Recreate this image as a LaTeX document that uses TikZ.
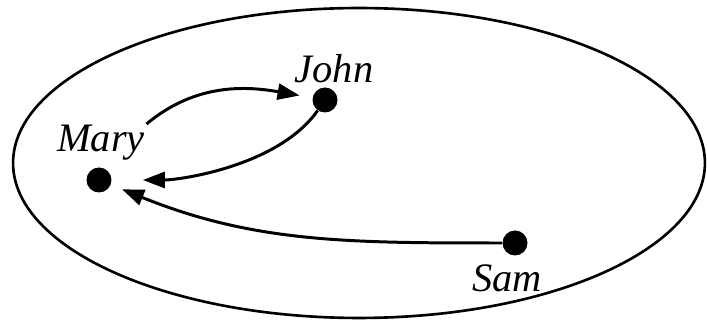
\documentclass[tikz,border=0pt]{standalone}
\usepackage{fontspec}
\setmainfont{Liberation Serif}
\usetikzlibrary{arrows.meta}
\tikzset{
  dot/.style={circle, fill=black, inner sep=0pt, minimum size=0.5cm},
  persontext/.style={font=\fontsize{23}{26}\selectfont\itshape, inner sep=0pt, anchor=base},
  link/.style={-{Triangle[length=0.44cm, width=0.32cm]}, line width=1.7pt}
}

\begin{document}
\begin{tikzpicture}[x=0.02cm, y=0.02cm]
  \useasboundingbox (0,0) rectangle (707,324);
  \draw[line width=1.5pt] (359,161) ellipse [x radius=6.92cm, y radius=3.1cm];
  % the three people
  \node[dot] (marydot) at (99,144) {};
  \node[dot] (johndot) at (325,224) {};
  \node[dot] (samdot) at (515,81) {};
  \node[persontext] (mary) at (101,172) {Mary};
  \node[persontext] (john) at (334,241) {John};
  \node[persontext] (sam) at (507,32) {Sam};
  % who points to whom
  \draw[link, shorten <=1pt, shorten >=0.26cm] (mary.north east) to[out=40, in=170] (johndot);
  \draw[link, shorten >=0.62cm] (johndot) to[out=235, in=0, looseness=0.8] (marydot.east);
  \draw[link, shorten >=0.24cm] (samdot) to[out=180, in=-22] (marydot);
\end{tikzpicture}
\end{document}
